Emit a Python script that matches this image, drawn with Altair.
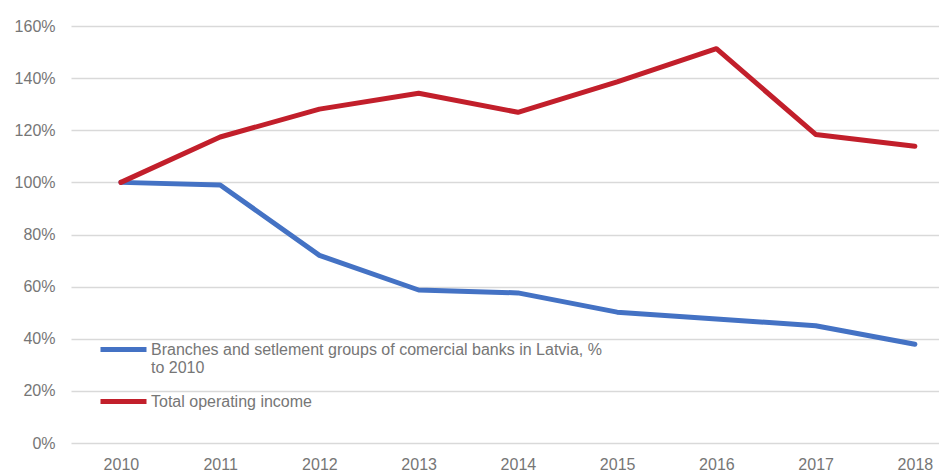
import altair as alt
import pandas as pd

years = [2010, 2011, 2012, 2013, 2014, 2015, 2016, 2017, 2018]
branches = [1.00, 0.99, 0.72, 0.587, 0.576, 0.502, 0.476, 0.45, 0.379]
income = [1.00, 1.174, 1.281, 1.342, 1.269, 1.386, 1.513, 1.184, 1.139]
series_names = [
    "Branches and setlement groups of comercial banks in Latvia, % to 2010",
    "Total operating income",
]
colors = ["#4472C4", "#C21F2B"]
y_ticks = [0, 0.2, 0.4, 0.6, 0.8, 1.0, 1.2, 1.4, 1.6]

rows = []
for name, vals in zip(series_names, [branches, income]):
    for yr, v in zip(years, vals):
        rows.append({"year": yr, "value": v, "series": name})
df = pd.DataFrame(rows)

FONT = "Liberation Sans"
GRAY = "#767676"

label_expr = (
    "indexof(datum.label, 'Latvia') > 0 ? "
    "['Branches and setlement groups of comercial banks in Latvia, %', 'to 2010'] : datum.label"
)

chart = (
    alt.Chart(df)
    .mark_line(strokeWidth=5, strokeCap="round", strokeJoin="round")
    .encode(
        x=alt.X(
            "year:Q",
            scale=alt.Scale(domain=[2009.497, 2018.243], nice=False, zero=False),
            axis=alt.Axis(
                values=years,
                format="d",
                title=None,
                grid=False,
                ticks=False,
                domain=False,
                labelPadding=13,
                labelFontSize=16,
                labelColor=GRAY,
                labelFont=FONT,
            ),
        ),
        y=alt.Y(
            "value:Q",
            scale=alt.Scale(domain=[0, 1.6], nice=False),
            axis=alt.Axis(
                values=y_ticks,
                format=".0%",
                title=None,
                ticks=False,
                domain=False,
                gridColor="#d9d9d9",
                gridWidth=1.3,
                labelPadding=16,
                labelFontSize=16,
                labelColor=GRAY,
                labelFont=FONT,
            ),
        ),
        color=alt.Color(
            "series:N",
            scale=alt.Scale(domain=series_names, range=colors),
            legend=alt.Legend(
                title=None,
                orient="none",
                legendX=27,
                legendY=298,
                padding=0,
                symbolType="stroke",
                symbolSize=2116,
                symbolStrokeWidth=5,
                labelFontSize=16,
                labelFont=FONT,
                labelColor=GRAY,
                labelLimit=800,
                labelOffset=2,
                labelExpr=label_expr,
                labelBaseline="middle",
                rowPadding=-20,
            ),
        ),
    )
    .properties(
        width=868,
        height=417,
        padding={"left": 63, "top": 18, "right": 0, "bottom": 28},
        autosize=alt.AutoSizeParams(type="none"),
    )
    .configure_view(stroke=None)
)

chart.save("out.html", embed_options={"renderer": "svg", "actions": False})
